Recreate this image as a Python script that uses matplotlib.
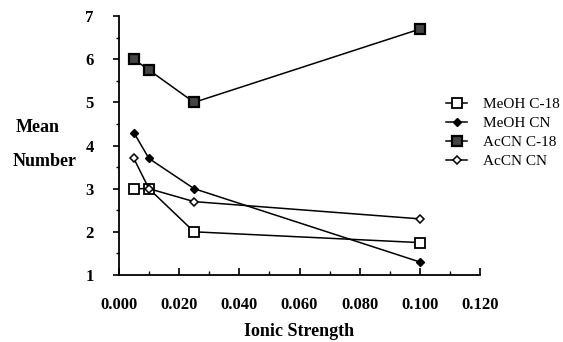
import matplotlib
matplotlib.use('Agg')
import matplotlib.pyplot as plt
from matplotlib.ticker import MultipleLocator

plt.rcParams['font.family'] = 'Liberation Serif'

# ionic strength values
ionic = [0.005, 0.01, 0.025, 0.1]

# mean number per series
meoh_c18 = [3.0, 3.0, 2.0, 1.75]
meoh_cn = [4.3, 3.7, 3.0, 1.3]
acn_c18 = [6.0, 5.75, 5.0, 6.7]
acn_cn = [3.7, 3.0, 2.7, 2.3]

xtick_labels = ['0.000', '0.020', '0.040', '0.060', '0.080', '0.100', '0.120']

fig = plt.figure(figsize=(5.63, 3.42), dpi=100)
ax = fig.add_axes([0.211, 0.196, 0.642, 0.757])

ax.plot(ionic, meoh_c18, color='black', lw=1.1, marker='s', ms=6.5,
        mfc='white', mec='black', mew=1.3, label='MeOH C-18')
ax.plot(ionic, meoh_cn, color='black', lw=1.1, marker='D', ms=4.5,
        mfc='black', mec='black', label='MeOH CN')
ax.plot(ionic, acn_c18, color='black', lw=1.1, marker='s', ms=6.5,
        mfc='#444444', mec='black', mew=1.6, label='AcCN C-18')
ax.plot(ionic, acn_cn, color='black', lw=1.1, marker='D', ms=4.5,
        mfc='white', mec='black', mew=1.1, label='AcCN CN')

ax.set_xlim(0, 0.12)
ax.set_ylim(1, 7)
ax.set_xticks([0, 0.02, 0.04, 0.06, 0.08, 0.1, 0.12])
ax.set_xticklabels(xtick_labels)
ax.xaxis.set_minor_locator(MultipleLocator(0.01))
ax.yaxis.set_major_locator(MultipleLocator(1))
ax.yaxis.set_minor_locator(MultipleLocator(0.5))
ax.tick_params(axis='x', which='major', direction='in', length=5, width=1.2, pad=16)
ax.tick_params(axis='x', which='minor', direction='in', length=3, width=1)
ax.tick_params(axis='y', which='major', direction='out', length=4, width=1.2, pad=14)
ax.tick_params(axis='y', which='minor', direction='out', length=2, width=1)
for lab in ax.get_xticklabels() + ax.get_yticklabels():
    lab.set_fontsize(12)
    lab.set_fontweight('bold')

ax.spines['top'].set_visible(False)
ax.spines['right'].set_visible(False)
ax.spines['left'].set_linewidth(1.3)
ax.spines['bottom'].set_linewidth(1.3)

# axis titles placed in figure space
fig.text(0.532, 1 - 331 / 342, 'Ionic Strength', fontsize=13, fontweight='bold',
         ha='center', va='center')
fig.text(0.027, 1 - 128 / 342, 'Mean', fontsize=13, fontweight='bold',
         ha='left', va='center')
fig.text(0.022, 1 - 162 / 342, 'Number', fontsize=13, fontweight='bold',
         ha='left', va='center')

fig.legend(loc='upper left', bbox_to_anchor=(0.792, 0.715), frameon=False,
           fontsize=11, handlelength=1.4, labelspacing=0.35, handletextpad=1.0,
           borderpad=0, borderaxespad=0)

fig.savefig('out.png', dpi=100)
